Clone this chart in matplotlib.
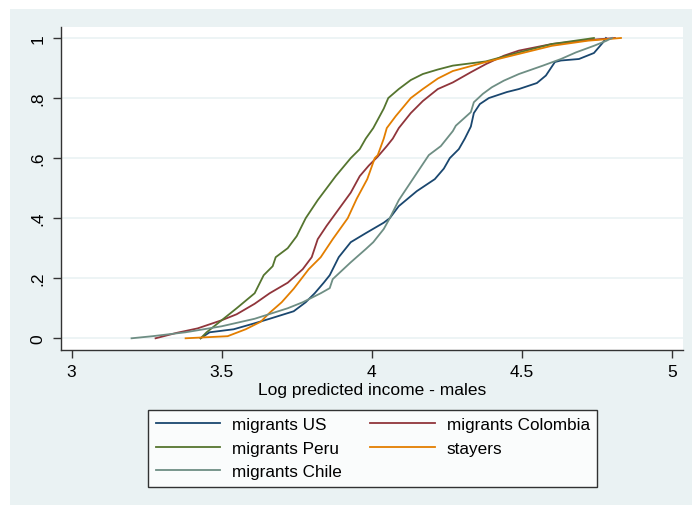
import matplotlib
matplotlib.use("Agg")
import matplotlib.pyplot as plt
from matplotlib.patches import Rectangle

plt.rcParams['font.family'] = ['Liberation Sans', 'DejaVu Sans']

# empirical CDFs: log predicted income (x) against cumulative share (y)
us_x = [3.43, 3.46, 3.54, 3.61, 3.66, 3.74, 3.78, 3.81, 3.84, 3.86, 3.89, 3.93,
        3.98, 4.04, 4.06, 4.09, 4.15, 4.21, 4.24, 4.26, 4.29, 4.31, 4.33, 4.34,
        4.36, 4.39, 4.45, 4.49, 4.55, 4.58, 4.61, 4.63, 4.69, 4.74, 4.77, 4.78]
us_y = [0, .02, .03, .05, .065, .09, .12, .15, .185, .21, .27, .32,
        .35, .385, .40, .44, .49, .53, .565, .60, .63, .665, .705, .75,
        .78, .80, .82, .83, .85, .875, .92, .925, .93, .95, .985, 1.0]

col_x = [3.28, 3.35, 3.42, 3.50, 3.55, 3.61, 3.66, 3.72, 3.77, 3.80, 3.82, 3.85,
         3.89, 3.93, 3.96, 3.99, 4.02, 4.05, 4.07, 4.09, 4.13, 4.17, 4.22, 4.27,
         4.33, 4.38, 4.44, 4.49, 4.60, 4.72, 4.81]
col_y = [0, .018, .033, .06, .08, .115, .15, .185, .23, .27, .33, .375,
         .43, .485, .54, .575, .605, .64, .665, .70, .75, .79, .83, .852,
         .886, .913, .941, .958, .98, .993, 1.0]

peru_x = [3.43, 3.45, 3.50, 3.55, 3.61, 3.64, 3.67, 3.68, 3.72, 3.75, 3.78, 3.82,
          3.85, 3.88, 3.93, 3.96, 3.98, 4.005, 4.04, 4.055, 4.09, 4.13, 4.17, 4.22,
          4.27, 4.38, 4.49, 4.60, 4.72, 4.74]
peru_y = [0, .02, .06, .10, .15, .21, .24, .27, .30, .34, .40, .46,
          .50, .54, .60, .63, .665, .70, .765, .80, .83, .86, .88, .895,
          .908, .922, .952, .98, .997, 1.0]

stay_x = [3.38, 3.52, 3.58, 3.63, 3.66, 3.70, 3.74, 3.79, 3.83, 3.85, 3.87, 3.92,
          3.95, 3.985, 4.01, 4.02, 4.04, 4.05, 4.08, 4.13, 4.17, 4.22, 4.27, 4.38,
          4.49, 4.60, 4.72, 4.83]
stay_y = [0, .007, .03, .055, .085, .12, .165, .23, .27, .30, .33, .40,
          .465, .53, .60, .61, .665, .70, .74, .80, .83, .865, .89, .92,
          .947, .974, .991, 1.0]

chile_x = [3.20, 3.27, 3.38, 3.50, 3.61, 3.72, 3.77, 3.83, 3.86, 3.87, 3.93, 3.98,
           4.005, 4.04, 4.06, 4.09, 4.13, 4.16, 4.19, 4.23, 4.27, 4.28, 4.33, 4.34,
           4.37, 4.40, 4.44, 4.49, 4.57, 4.63, 4.68, 4.74, 4.78, 4.80]
chile_y = [0, .007, .02, .04, .065, .10, .12, .15, .167, .197, .253, .297,
           .32, .364, .40, .46, .52, .565, .61, .64, .69, .708, .753, .786,
           .814, .836, .858, .88, .908, .93, .952, .974, .99, 1.0]

x_ticks = [3, 3.5, 4, 4.5, 5]
x_labels = ['3', '3.5', '4', '4.5', '5']
y_ticks = [0, .2, .4, .6, .8, 1]
y_labels = ['0', '.2', '.4', '.6', '.8', '1']

bg = '#eaf2f3'
W, H = 692, 506
fig = plt.figure(figsize=(W / 100, H / 100), dpi=100)
fig.patch.set_facecolor('white')
fig.patches.append(Rectangle((10 / W, 0), 1, 1 - 10 / H, transform=fig.transFigure,
                             facecolor=bg, edgecolor='none', zorder=-10))

ax = fig.add_axes([61 / W, 1 - 351 / H, 622 / W, 323 / H])
ax.set_facecolor('white')

lw = 1.3
l_us, = ax.plot(us_x, us_y, color='#1a476f', lw=lw)
l_col, = ax.plot(col_x, col_y, color='#90353b', lw=lw)
l_peru, = ax.plot(peru_x, peru_y, color='#55752f', lw=lw)
l_stay, = ax.plot(stay_x, stay_y, color='#e37e00', lw=lw)
l_chile, = ax.plot(chile_x, chile_y, color='#6e8e84', lw=lw)

ax.set_xlim(2.965, 5.0366)
ax.set_ylim(-0.039, 1.0366)
ax.set_xticks(x_ticks)
ax.set_xticklabels(x_labels)
ax.set_yticks(y_ticks)
ax.set_yticklabels(y_labels, rotation=90, va='center')
for y in y_ticks:
    ax.axhline(y, color=bg, lw=1.2, zorder=0)

for side in ['top', 'right']:
    ax.spines[side].set_visible(False)
for side in ['left', 'bottom']:
    ax.spines[side].set_color('#333333')
    ax.spines[side].set_linewidth(1.0)
ax.tick_params(axis='both', length=6, width=1.0, color='#333333',
               labelsize=12.5, labelcolor='black')
ax.tick_params(axis='x', pad=4)
ax.tick_params(axis='y', pad=5)

ax.set_xlabel('Log predicted income - males', fontsize=12.5, labelpad=2)

handles = [l_us, l_peru, l_chile, l_col, l_stay]
labels = ['migrants US', 'migrants Peru', 'migrants Chile',
          'migrants Colombia', 'stayers']
leg = fig.legend(handles, labels, ncol=2, loc='upper center',
                 bbox_to_anchor=(372.6 / W, 1 - 402 / H), fontsize=12.3,
                 frameon=True, fancybox=False, edgecolor='black',
                 handlelength=3.8, handletextpad=0.7, columnspacing=1.6,
                 labelspacing=0.5, borderpad=0.45)
leg.get_frame().set_linewidth(1.0)
for line in leg.get_lines():
    line.set_linewidth(1.3)

fig.savefig('out.png', dpi=100)
